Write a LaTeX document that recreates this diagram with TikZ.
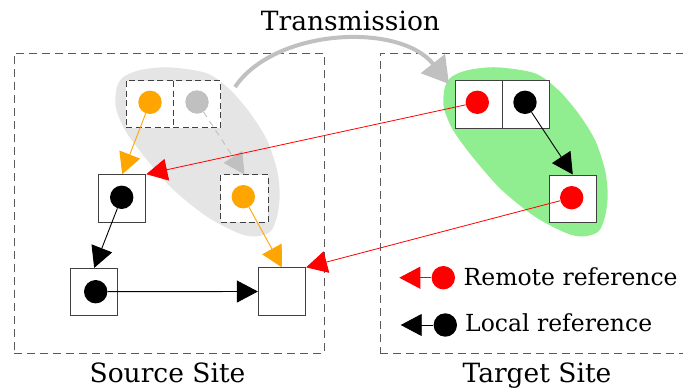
\documentclass[tikz,border=0pt]{standalone}
\usepackage{fontspec}
\setmainfont{DejaVu Serif}
\usetikzlibrary{arrows.meta}

\definecolor{edgegray}{HTML}{C0C0C0}
\definecolor{shadegray}{HTML}{E5E5E5}
\definecolor{pastelgreen}{HTML}{90EE90}
\definecolor{orangeref}{HTML}{FFA500}
\definecolor{framegray}{HTML}{5A5A5A}
\definecolor{cellline}{HTML}{404040}

\tikzset{
  cell/.style={draw=cellline, line width=0.9pt, fill=white,
    minimum size=47.3pt, inner sep=0pt},
  dcell/.style={cell, dash pattern=on 6pt off 3.5pt},
  dot/.style={circle, fill=#1, minimum size=23.4pt, inner sep=0pt},
  ref/.style={draw=#1, color=#1, line width=0.9pt,
    -{Triangle[length=21pt,width=22pt]}},
  site/.style={draw=framegray, line width=1pt, dash pattern=on 8pt off 5pt,
    minimum width=310pt, minimum height=300pt, inner sep=0pt},
  caption/.style={anchor=base, inner sep=0pt, font=\fontsize{26.5}{30}\selectfont},
  legendtext/.style={anchor=base west, inner sep=0pt, font=\fontsize{23.5}{28}\selectfont},
}

\begin{document}
\begin{tikzpicture}[x=1pt, y=-1pt]
\useasboundingbox (0,0) rectangle (683,389);

% the two sites
\node[site] (srcsite) at (169.3,203.3) {};
\node[site, minimum width=314pt] (tgtsite) at (537,203.3) {};

% shaded groups: the transmitted cells (grey) and their copies (green)
\foreach \dx/\col in {-328/shadegray, 0/pastelgreen}
  \fill[\col, xshift=\dx pt] plot[smooth cycle] coordinates {
    (443.3,103.3) (445,86.7) (451.7,76.7) (468.3,70) (497,67.3)
    (535,73.3) (558.3,90) (578.3,113.3) (595,140) (605,170)
    (607.7,195) (605,216.7) (598.3,231.7) (583,236.5) (566,233)
    (535,216.7) (501.7,190) (475,160) (455,133.3) (446.7,116.7)};

% source site cells
\node[dcell] (sA) at (149.7,104.2) {};
\node[dcell] (sB) at (197.0,104.2) {};
\node[cell]  (sC) at (122.2,198.3) {};
\node[dcell] (sD) at (244.5,198.5) {};
\node[cell]  (sE) at (94.2,292.0) {};
\node[cell]  (sF) at (282.0,291.5) {};

% target site cells
\node[cell] (tA) at (478.8,104.5) {};
\node[cell] (tB) at (526.1,104.5) {};
\node[cell] (tC) at (572.8,198.6) {};

% references held by the cells
\node[dot=orangeref] (sAdot) at (150.0,102.3) {};
\node[dot=edgegray]  (sBdot) at (197.0,102.0) {};
\node[dot=black]     (sCdot) at (121.7,197.3) {};
\node[dot=orangeref] (sDdot) at (243.3,196.7) {};
\node[dot=black]     (sEdot) at (95.7,291.7) {};
\node[dot=red]       (tAdot) at (477.3,102.3) {};
\node[dot=black]     (tBdot) at (525.0,102.3) {};
\node[dot=red]       (tCdot) at (571.7,197.7) {};

% reference edges
\draw[ref=orangeref] (sAdot) -- (sC.north);
\draw[ref=edgegray, dash pattern=on 6pt off 5pt] (sBdot) -- (sD.north);
\draw[ref=black] (sCdot) -- (sE.north);
\draw[ref=black] (sEdot) -- (sF.west);
\draw[ref=orangeref] (sDdot) -- (sF.north);
\draw[ref=black] (tBdot) -- (tC.north);
\draw[ref=red, line width=0.8pt] (tAdot) -- (sC.north east);
\draw[ref=red, line width=0.8pt] (tCdot) -- (sF.north east);

% transmission arrow
\coordinate (txs) at (235,87);
\coordinate (txe) at (449,84);
\draw[line width=4pt, edgegray, -{Triangle[length=26pt,width=30pt]}]
  (txs) .. controls (275,28) and (400,22) .. (txe);

% legend
\node[dot=red] (lgRdot) at (443.3,277.7) {};
\coordinate (lgRtip) at (399.3,277.7);
\draw[ref=red] (lgRdot) -- (lgRtip);
\node[legendtext] (lgRtext) at (463.5,285) {Remote reference};

\node[dot=black] (lgLdot) at (445.3,325) {};
\coordinate (lgLtip) at (400.7,325);
\draw[ref=black] (lgLdot) -- (lgLtip);
\node[legendtext] (lgLtext) at (465,331.5) {Local reference};

% captions
\node[caption] (ttl) at (350.5,30) {Transmission};
\node[caption] (srcl) at (167.5,382.5) {Source Site};
\node[caption] (tgtl) at (537,382.5) {Target Site};
\end{tikzpicture}
\end{document}
